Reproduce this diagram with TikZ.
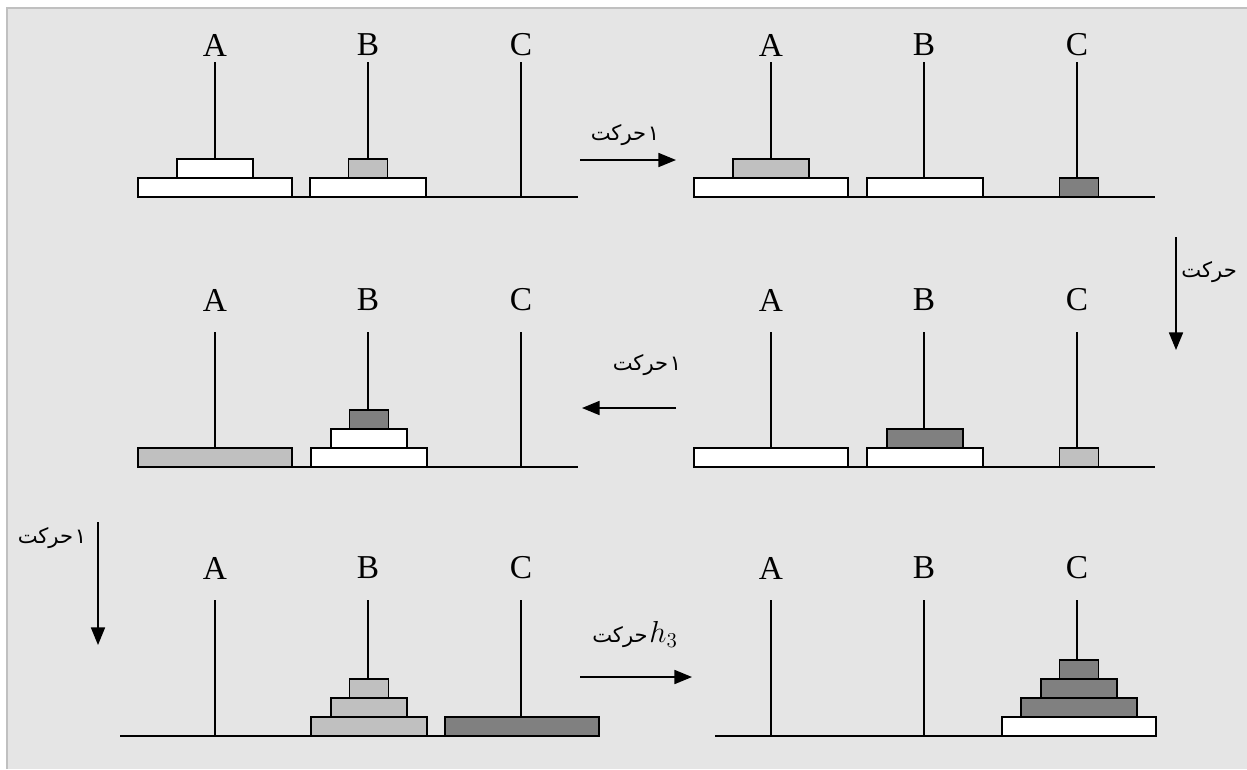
\documentclass[tikz,border=0pt]{standalone}
\usepackage{fontspec}
\setmainfont{Liberation Serif}
\newfontfamily\arabicfont[Script=Arabic]{DejaVu Sans}
\TeXXeTstate=1
\usepackage{tikz}
\usetikzlibrary{arrows.meta}
\definecolor{panelgray}{HTML}{E5E5E5}
\definecolor{framegray}{HTML}{C0C0C0}
\definecolor{lightdisc}{HTML}{C0C0C0}
\definecolor{darkdisc}{HTML}{808080}

\begin{document}
\begin{tikzpicture}[x=0.02cm, y=-0.02cm,
	peg/.style={line width=1.1pt},
	disc/.style={draw, line width=1.1pt},
	pegname/.style={font=\fontsize{19}{21}\selectfont},
	movelabel/.style={font=\fontsize{12}{14}\selectfont\arabicfont},
	movearrow/.style={-{Triangle[length=10pt,width=8pt]}, line width=0.85pt}]

% Canvas and frame
\useasboundingbox (0,0) rectangle (1247,769);
\fill[white] (0,0) rectangle (1247,769);
\fill[panelgray] (7,8) rectangle (1247,769);
\draw[framegray, line width=1.5pt] (7,769) -- (7,8) -- (1247,8);

% Disc height and peg spacing
\pgfmathsetmacro{\dh}{19}
\pgfmathsetmacro{\gap}{153}

% Bases, pegs and peg names (panel/peg A x/base y/top y/name y/base left/base right)
\foreach \pn/\xa/\yb/\yt/\yl/\xl/\xr in {tl/215/197/62/45/138/578, tr/771/197/62/45/695/1155, ml/215/467/332/300/138/578, mr/771/467/332/300/695/1155, bl/215/736/600/568/120/598, br/771/736/600/568/715/1155} {
	\draw[peg] (\xl,\yb) -- (\xr,\yb);
	\foreach \p [count=\i from 0] in {A,B,C} {
		\draw[peg] (\xa+\i*\gap,\yb) -- (\xa+\i*\gap,\yt);
		\node[pegname] (\pn\p) at (\xa+\i*\gap,\yl) {\p};
	}
}

% Discs (peg x/base y/level/width/colour)
\foreach \dx/\yb/\lv/\w/\col in {
	215/197/0/154/white, 215/197/1/76/white, 368/197/0/116/white, 368/197/1/39/lightdisc,
	771/197/0/154/white, 771/197/1/76/lightdisc, 925/197/0/116/white, 1079/197/0/39/darkdisc,
	215/467/0/154/lightdisc, 369/467/0/116/white, 369/467/1/76/white, 369/467/2/39/darkdisc,
	771/467/0/154/white, 925/467/0/116/white, 925/467/1/76/darkdisc, 1079/467/0/39/lightdisc,
	369/736/0/116/lightdisc, 369/736/1/76/lightdisc, 369/736/2/39/lightdisc, 522/736/0/154/darkdisc,
	1079/736/0/154/white, 1079/736/1/116/darkdisc, 1079/736/2/76/darkdisc, 1079/736/3/39/darkdisc} {
	\draw[disc, fill=\col] (\dx-\w/2,\yb-\lv*\dh) rectangle ++(\w,-\dh);
}

% Moves between the panels
\coordinate (m1s) at (580,160);  \coordinate (m1e) at (676,160);
\coordinate (m2s) at (1176,237); \coordinate (m2e) at (1176,350);
\coordinate (m3s) at (676,408);  \coordinate (m3e) at (582,408);
\coordinate (m4s) at (98,522);   \coordinate (m4e) at (98,645);
\coordinate (m5s) at (580,677);  \coordinate (m5e) at (692,677);

\draw[movearrow] (m1s) -- (m1e);
\draw[movearrow] (m2s) -- (m2e);
\draw[movearrow] (m3s) -- (m3e);
\draw[movearrow] (m4s) -- (m4e);
\draw[movearrow] (m5s) -- (m5e);

\node[movelabel] (l1) at (625,135) {\beginR ۱\kern1pt حرکت\endR};
\node[movelabel, anchor=east] (l2) at (1243,272) {\beginR حرکت\endR};
\node[movelabel] (l3) at (647,365) {\beginR ۱\kern1pt حرکت\endR};
\node[movelabel] (l4) at (52,538) {\beginR ۱\kern1pt حرکت\endR};
\node[movelabel] (l5) at (635,635) {\beginR حرکت\endR\kern1pt{\rmfamily\fontsize{17}{19}\selectfont$h_3$}};

\end{tikzpicture}
\end{document}
